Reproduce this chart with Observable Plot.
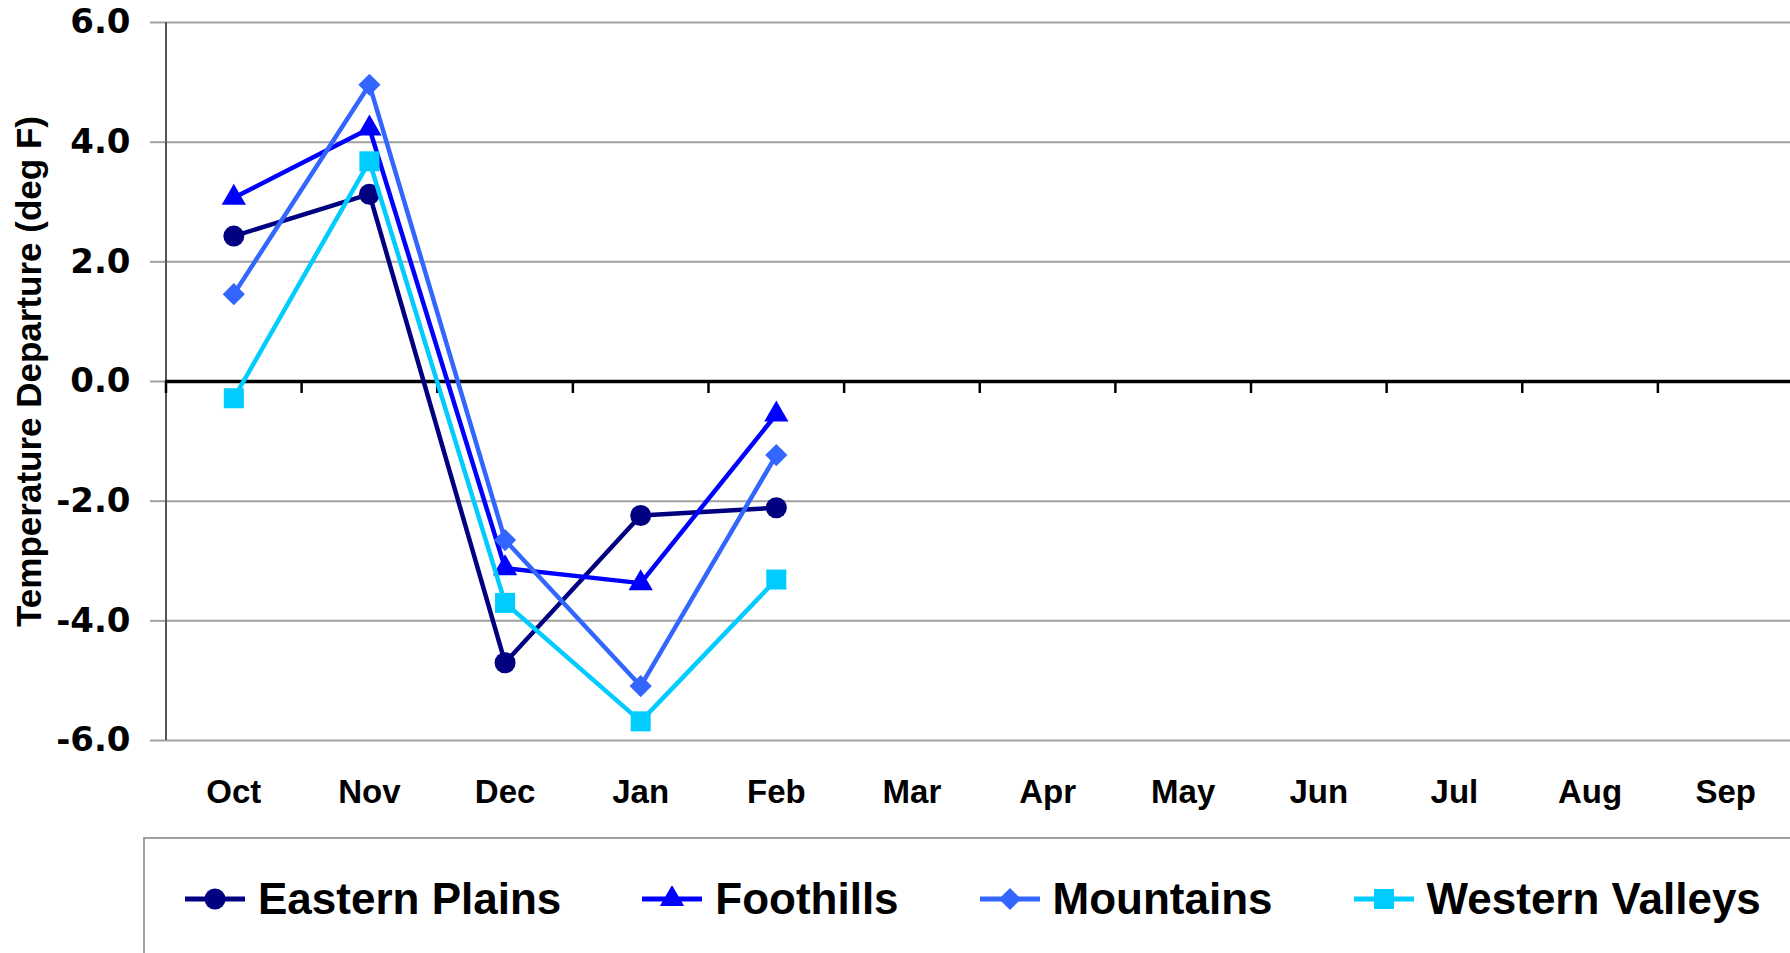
<!DOCTYPE html>
<html><head><meta charset="utf-8">
<script src="https://cdn.jsdelivr.net/npm/d3@7"></script>
<script src="https://cdn.jsdelivr.net/npm/@observablehq/plot@0.6"></script>
<style>
html,body{margin:0;padding:0;background:#fff;overflow:hidden;width:1790px;height:953px;position:relative;}
#chart{position:absolute;left:0;top:0;}
#legend{position:absolute;left:143px;top:837px;width:1647px;height:116px;border-top:2px solid #a0a0a0;border-left:2px solid #a0a0a0;box-sizing:border-box;display:flex;align-items:center;padding-left:40px;padding-top:6px;font-family:"Liberation Sans",Arial,sans-serif;font-weight:bold;font-size:44px;color:#000;}
.item{display:flex;align-items:center;margin-right:81px;white-space:nowrap;}
.item svg{margin-right:13px;display:block;}
</style></head><body>
<div id="chart"></div><div id="legend"></div>
<script>
const months = ["Oct","Nov","Dec","Jan","Feb","Mar","Apr","May","Jun","Jul","Aug","Sep"];
const regions = ["Eastern Plains","Foothills","Mountains","Western Valleys"];
const easternPlains = [2.43, 3.13, -4.70, -2.24, -2.11];
const foothills = [3.07, 4.23, -3.12, -3.37, -0.55];
const mountains = [1.46, 4.96, -2.65, -5.09, -1.23];
const westernValleys = [-0.28, 3.68, -3.70, -5.68, -3.31];
const yTicks = [-6, -4, -2, 0, 2, 4, 6];
const yTitle = "Temperature Departure (deg F)";

const colors = ["#000080", "#0000FF", "#3366FF", "#00CCFF"];
const symbols = ["circle", "triangle", "diamond2", "square"];
const dotR = [10.5, 9, 10, 11.3];

const seriesValues = [easternPlains, foothills, mountains, westernValleys];
const data = regions.flatMap((r, s) => seriesValues[s].map((v, i) => ({region: r, i, month: months[i], v})));
const boundaries = d3.range(months.length + 1).map(k => k - 0.5);
const font = '"Liberation Sans", Arial, sans-serif';

const seriesMarks = regions.flatMap((r, s) => {
  const d = data.filter(e => e.region === r);
  return [
    Plot.line(d, {x: "i", y: "v", stroke: colors[s], strokeWidth: 4.5}),
    Plot.dot(d, {x: "i", y: "v", fill: colors[s], symbol: symbols[s], r: dotR[s], stroke: "none"})
  ];
});

const chart = Plot.plot({
  width: 1790,
  height: 836,
  marginLeft: 165,
  marginRight: 0,
  marginTop: 22,
  marginBottom: 96,
  style: {fontFamily: font, color: "black", background: "white"},
  x: {domain: [-0.5, months.length - 0.5], range: [165.5, 1793]},
  y: {domain: [-6, 6]},
  marks: [
    Plot.ruleY(yTicks.filter(d => d !== 0), {stroke: "#a0a0a0", strokeWidth: 2}),
    Plot.axisY({ticks: yTicks, tickSize: 15, tickPadding: 20, tickFormat: d => d.toFixed(1),
      stroke: "#a0a0a0", strokeWidth: 2, fill: "black", fontSize: 34, fontWeight: "bold",
      fontFamily: '"DejaVu Sans", sans-serif', label: null}),
    Plot.ruleX([-0.5], {stroke: "#555", strokeWidth: 2}),
    Plot.ruleY([0], {stroke: "black", strokeWidth: 3.5}),
    Plot.ruleX(boundaries, {y1: 0, y2: 0, insetBottom: -12, stroke: "black", strokeWidth: 2.5}),
    Plot.axisX({ticks: d3.range(months.length), tickFormat: i => months[i], tickSize: 0, tickPadding: 39,
      fontSize: 33, fontWeight: "bold", fill: "black", label: null}),
    Plot.text([yTitle], {frameAnchor: "left", textAnchor: "middle", rotate: -90, dx: -136, dy: -10,
      fontSize: 35, fontWeight: "bold", fill: "black"}),
    ...seriesMarks
  ]
});
document.getElementById("chart").appendChild(chart);

// legend
const legend = d3.select("#legend");
const symMap = {circle: d3.symbolCircle, triangle: d3.symbolTriangle, diamond2: d3.symbolDiamond2, square: d3.symbolSquare};
regions.forEach((r, s) => {
  const item = legend.append("div").attr("class", "item");
  const svg = item.append("svg").attr("width", 60).attr("height", 26);
  svg.append("line").attr("x1", 0).attr("x2", 60).attr("y1", 13).attr("y2", 13)
    .attr("stroke", colors[s]).attr("stroke-width", 5);
  svg.append("path").attr("transform", "translate(30,13)")
    .attr("d", d3.symbol(symMap[symbols[s]], Math.PI * dotR[s] * dotR[s])())
    .attr("fill", colors[s]);
  item.append("span").text(r);
});
</script>
</body></html>
